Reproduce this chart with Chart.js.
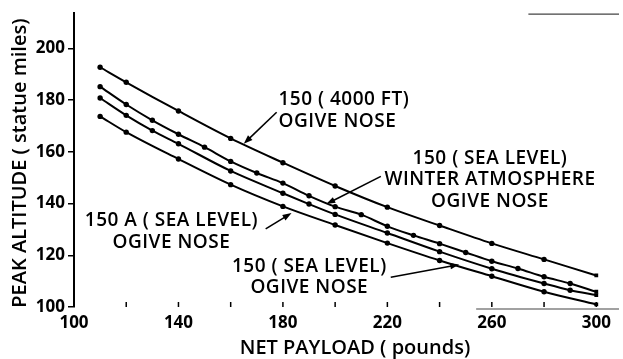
<!DOCTYPE html>
<html>
<head>
<meta charset="utf-8">
<script src="https://cdn.jsdelivr.net/npm/chart.js@4.4.1/dist/chart.umd.min.js"></script>
<style>
  html, body { margin: 0; padding: 0; background: #fff; }
  #wrap { width: 623px; height: 359px; }
</style>
</head>
<body>
<div id="wrap"><canvas id="altChart"></canvas></div>
<script>
// axis ticks
const xTicks = [100, 120, 140, 160, 180, 200, 220, 240, 260, 280, 300];
const xTickLabels = [100, 140, 180, 220, 260, 300];
const yTicks = [100, 120, 140, 160, 180, 200];

// 150 (4000 ft), ogive nose
const payload4000 = [110, 120, 140, 160, 180, 200, 220, 240, 260, 280, 300];
const alt4000 = [192.7, 186.9, 175.8, 165.2, 155.8, 146.8, 138.6, 131.5, 124.6, 118.4, 112.2];

// 150 (sea level), winter atmosphere, ogive nose
const payloadWinter = [110, 120, 130, 140, 150, 160, 170, 180, 190, 200, 210, 220, 230, 240, 250, 260, 270, 280, 290, 300];
const altWinter = [185.2, 178.3, 172.2, 166.8, 161.8, 156.3, 151.8, 147.9, 143.0, 138.8, 135.7, 131.2, 127.7, 124.5, 121.1, 117.7, 114.9, 111.7, 109.1, 105.9];

// 150 (sea level), ogive nose
const payloadSea = [110, 120, 130, 140, 160, 180, 190, 200, 220, 240, 260, 280, 290, 300];
const altSea = [180.8, 174.1, 168.2, 163.1, 152.6, 144.0, 139.8, 135.8, 128.6, 121.4, 114.8, 109.1, 106.5, 104.6];

// 150 A (sea level), ogive nose
const payloadA = [110, 120, 140, 160, 180, 200, 220, 240, 260, 280, 300];
const altA = [173.7, 167.6, 157.2, 147.3, 138.9, 131.7, 124.7, 118.0, 111.9, 105.9, 101.0];

const FONT = "'Open Sans', 'DejaVu Sans', sans-serif";

function pairs(xs, ys) {
  return xs.map((x, i) => ({ x: x, y: ys[i] }));
}

function curve(xs, ys) {
  return {
    data: pairs(xs, ys),
    borderColor: '#000',
    backgroundColor: '#000',
    borderWidth: 2,
    cubicInterpolationMode: 'monotone',
    pointRadius: 2.7,
    pointBorderWidth: 0,
    pointStyle: (c) => c.dataIndex === c.dataset.data.length - 1 ? 'rect' : 'circle'
  };
}

// curve labels and leader arrows, in data units
const notes = [
  { lines: ['150 ( 4000 FT)', 'OGIVE NOSE'], x: 178.3, ys: [178.0, 169.6], align: 'left',
    from: [177.6, 175.3], to: [165.0, 163.1] },
  { lines: ['150 ( SEA LEVEL)', 'WINTER ATMOSPHERE', 'OGIVE NOSE'], x: 259.3, ys: [155.4, 147.0, 138.6], align: 'center',
    from: [217.5, 150.5], to: [196.6, 139.8] },
  { lines: ['150 A ( SEA LEVEL)', 'OGIVE NOSE'], x: 137.3, ys: [131.4, 122.9], align: 'center',
    from: [173.4, 130.2], to: [183.3, 136.3] },
  { lines: ['150 ( SEA LEVEL)', 'OGIVE NOSE'], x: 190.1, ys: [113.4, 105.4], align: 'center',
    from: [221.3, 111.5], to: [247.5, 116.4] }
];

function arrow(ctx, x1, y1, x2, y2) {
  const a = Math.atan2(y2 - y1, x2 - x1);
  const len = 9, w = 3.2;
  ctx.beginPath();
  ctx.moveTo(x1, y1);
  ctx.lineTo(x2 - Math.cos(a) * len * 0.7, y2 - Math.sin(a) * len * 0.7);
  ctx.stroke();
  ctx.beginPath();
  ctx.moveTo(x2, y2);
  ctx.lineTo(x2 - len * Math.cos(a) + w * Math.sin(a), y2 - len * Math.sin(a) - w * Math.cos(a));
  ctx.lineTo(x2 - len * Math.cos(a) - w * Math.sin(a), y2 - len * Math.sin(a) + w * Math.cos(a));
  ctx.closePath();
  ctx.fill();
}

const extras = {
  id: 'extras',
  afterDraw(chart) {
    const ctx = chart.ctx;
    const xs = chart.scales.x, ys = chart.scales.y;
    const area = chart.chartArea;
    ctx.save();

    // inward tick marks on the payload axis
    ctx.strokeStyle = '#000';
    ctx.lineWidth = 1.5;
    xTicks.slice(1).forEach(v => {
      const px = xs.getPixelForValue(v);
      ctx.beginPath();
      ctx.moveTo(px, area.bottom);
      ctx.lineTo(px, area.bottom - 5);
      ctx.stroke();
    });

    // broken frame pieces at the right
    ctx.strokeStyle = '#444';
    ctx.lineWidth = 1.2;
    ctx.beginPath();
    ctx.moveTo(xs.getPixelForValue(254), area.bottom + 2);
    ctx.lineTo(area.right, area.bottom + 2);
    ctx.moveTo(xs.getPixelForValue(274), area.top + 1);
    ctx.lineTo(area.right, area.top + 1);
    ctx.stroke();

    ctx.fillStyle = '#000';
    ctx.strokeStyle = '#000';
    ctx.textBaseline = 'alphabetic';

    // axis titles
    ctx.font = '600 20px ' + FONT;
    ctx.textAlign = 'center';
    ctx.fillText('NET PAYLOAD ( pounds)', xs.getPixelForValue(207.6), chart.height - 5);
    ctx.save();
    ctx.translate(26, (area.top + area.bottom) / 2 + 3);
    ctx.rotate(-Math.PI / 2);
    ctx.fillText('PEAK ALTITUDE ( statue miles)', 0, 0);
    ctx.restore();

    // labels and arrows
    ctx.lineWidth = 1.6;
    ctx.font = '600 19px ' + FONT;
    ctx.letterSpacing = '0.5px';
    notes.forEach(n => {
      ctx.textAlign = n.align;
      n.lines.forEach((t, i) => {
        ctx.fillText(t, xs.getPixelForValue(n.x), ys.getPixelForValue(n.ys[i]));
      });
      arrow(ctx,
        xs.getPixelForValue(n.from[0]), ys.getPixelForValue(n.from[1]),
        xs.getPixelForValue(n.to[0]), ys.getPixelForValue(n.to[1]));
    });
    ctx.restore();
  }
};

new Chart(document.getElementById('altChart'), {
  type: 'line',
  data: {
    datasets: [
      curve(payload4000, alt4000),
      curve(payloadWinter, altWinter),
      curve(payloadSea, altSea),
      curve(payloadA, altA)
    ]
  },
  options: {
    responsive: true,
    maintainAspectRatio: false,
    animation: false,
    layout: { padding: { top: 10, right: 0, left: 0, bottom: 0 } },
    plugins: {
      legend: { display: false },
      tooltip: { enabled: false }
    },
    scales: {
      x: {
        type: 'linear',
        min: 100,
        max: 308.7,
        afterBuildTicks: (s) => { s.ticks = xTicks.map(v => ({ value: v })); },
        afterFit: (s) => { s.height = 52; },
        grid: { display: false },
        border: { display: false },
        ticks: {
          autoSkip: false,
          maxRotation: 0,
          padding: -2,
          color: '#000',
          font: { family: FONT, size: 17, weight: '700' },
          callback: (v) => xTickLabels.includes(v) ? String(v) : ''
        }
      },
      y: {
        type: 'linear',
        min: 100,
        max: 213.6,
        afterBuildTicks: (s) => { s.ticks = yTicks.map(v => ({ value: v })); },
        afterFit: (s) => { s.width = 74; },
        grid: {
          drawOnChartArea: false,
          drawTicks: true,
          tickLength: 6,
          color: '#000',
          lineWidth: 1.5
        },
        border: { display: true, color: '#000', width: 2 },
        ticks: {
          padding: 3,
          color: '#000',
          font: { family: FONT, size: 17, weight: '700' }
        }
      }
    }
  },
  plugins: [extras]
});
</script>
</body>
</html>
